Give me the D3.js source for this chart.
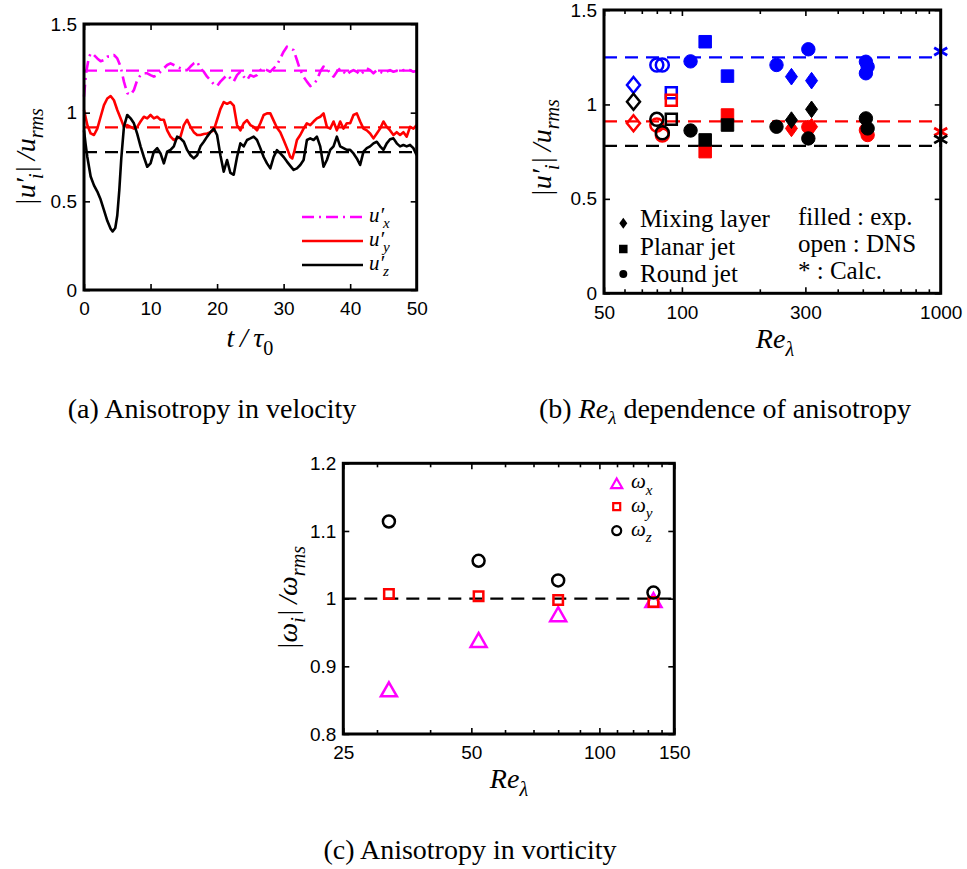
<!DOCTYPE html>
<html>
<head>
<meta charset="utf-8">
<script src="https://cdn.jsdelivr.net/npm/d3@7"></script>
<style>
  body { margin: 0; background: #fff; }
</style>
</head>
<body>
<svg id="fig" width="967" height="869"></svg>
<script>
// ---- (a) time histories of |u'_i|/u_rms, [t/tau0, value]
var uxHist = [[0,1.09],[0.3,1.22],[0.7,1.306],[1,1.335],[1.5,1.325],[2,1.306],[2.5,1.29],[3,1.297],[3.5,1.316],[4,1.316],[4.5,1.325],[5,1.306],[5.5,1.26],[6,1.175],[6.5,1.11],[7,1.10],[7.5,1.128],[8,1.184],[8.5,1.212],[9,1.222],[9.5,1.222],[10,1.212],[10.5,1.203],[11,1.212],[11.5,1.231],[12,1.25],[12.5,1.269],[13,1.278],[13.5,1.269],[14,1.26],[14.5,1.25],[15,1.24],[15.5,1.24],[16,1.26],[16.5,1.278],[17,1.288],[17.5,1.25],[18,1.231],[18.5,1.203],[19,1.184],[19.5,1.16],[20,1.15],[20.5,1.175],[21,1.194],[21.5,1.212],[22,1.194],[22.5,1.175],[23,1.212],[23.5,1.231],[24,1.203],[24.5,1.184],[25,1.212],[25.5,1.203],[26,1.212],[26.5,1.24],[27,1.25],[27.5,1.24],[28,1.231],[28.5,1.25],[29,1.269],[29.5,1.306],[30,1.344],[30.5,1.372],[31,1.363],[31.5,1.353],[32,1.297],[32.5,1.24],[33,1.203],[33.5,1.175],[34,1.15],[34.5,1.16],[35,1.184],[35.5,1.231],[36,1.26],[36.5,1.25],[37,1.222],[37.5,1.203],[38,1.231],[38.5,1.25],[39,1.231],[39.5,1.212],[40,1.231],[40.5,1.24],[41,1.231],[41.5,1.212],[42,1.231],[42.5,1.25],[43,1.24],[43.5,1.222],[44,1.24],[44.5,1.231],[45,1.222],[45.5,1.231],[46,1.24],[46.5,1.231],[47,1.237],[47.5,1.231],[48,1.24],[48.5,1.237],[49,1.24],[49.5,1.231],[50,1.237]];
var uyHist = [[0,1.015],[0.5,0.93],[1,0.883],[1.5,0.874],[2,0.91],[2.5,0.977],[3,1.043],[3.5,1.08],[4,1.094],[4.5,1.07],[5,1.015],[5.5,0.968],[6,0.92],[6.5,0.93],[7,0.92],[7.5,0.91],[8,0.92],[8.5,0.95],[9,0.977],[9.5,0.968],[10,0.987],[10.5,0.968],[11,0.977],[11.5,0.96],[12,0.96],[12.5,0.90],[13,0.865],[13.5,0.846],[14,0.855],[14.5,0.865],[15,0.93],[15.5,0.96],[16,0.92],[16.5,0.89],[17,0.874],[17.5,0.874],[18,0.88],[18.5,0.883],[19,0.89],[19.5,0.90],[20,0.96],[20.5,1.02],[21,1.06],[21.5,1.05],[22,1.06],[22.5,1.04],[23,0.93],[23.5,0.90],[24,0.94],[24.5,0.958],[25,0.93],[25.5,0.92],[26,0.90],[26.5,0.94],[27,0.987],[27.5,0.996],[28,0.996],[28.5,0.955],[29,0.915],[29.5,0.89],[30,0.846],[30.5,0.80],[31,0.75],[31.3,0.742],[31.6,0.78],[32,0.846],[32.5,0.874],[33,0.91],[33.5,0.94],[34,0.93],[34.5,0.95],[35,0.968],[35.5,0.977],[36,0.996],[36.5,0.92],[37,0.91],[37.5,0.95],[38,0.90],[38.5,0.95],[39,0.91],[39.5,0.94],[40,0.94],[40.5,0.987],[41,0.996],[41.5,0.95],[42,0.91],[42.5,0.90],[43,0.883],[43.5,0.855],[44,0.883],[44.5,0.91],[45,0.95],[45.5,0.92],[46,0.90],[46.5,0.874],[47,0.89],[47.5,0.874],[48,0.89],[48.5,0.865],[49,0.92],[49.5,0.91],[50,0.93]];
var uzHist = [[0,0.90],[0.25,0.82],[0.5,0.75],[1,0.64],[1.5,0.59],[2,0.555],[2.5,0.51],[3,0.45],[3.5,0.39],[4,0.345],[4.3,0.33],[4.7,0.35],[5,0.42],[5.3,0.56],[5.6,0.74],[6,0.92],[6.5,0.987],[7,0.968],[7.5,0.94],[8,0.88],[8.5,0.81],[9,0.75],[9.5,0.695],[10,0.714],[10.5,0.78],[11,0.80],[11.5,0.77],[12,0.714],[12.5,0.78],[13,0.79],[13.5,0.81],[14,0.865],[14.5,0.855],[15,0.836],[15.5,0.79],[16,0.76],[16.5,0.742],[17,0.76],[17.5,0.81],[18,0.836],[18.5,0.865],[19,0.89],[19.5,0.91],[20,0.874],[20.5,0.76],[21,0.667],[21.5,0.733],[22,0.66],[22.5,0.65],[23,0.75],[23.5,0.827],[24,0.81],[24.5,0.846],[25,0.855],[25.5,0.865],[26,0.846],[26.5,0.80],[27,0.75],[27.5,0.714],[28,0.686],[28.5,0.75],[29,0.789],[29.5,0.77],[30,0.75],[30.5,0.724],[31,0.70],[31.5,0.677],[32,0.686],[32.5,0.705],[33,0.733],[33.5,0.846],[34,0.855],[34.5,0.846],[35,0.865],[35.5,0.81],[36,0.695],[36.5,0.733],[37,0.79],[37.5,0.81],[38,0.865],[38.5,0.81],[39,0.80],[39.5,0.79],[40,0.79],[40.5,0.77],[41,0.742],[41.5,0.705],[42,0.78],[42.5,0.80],[43,0.81],[43.5,0.827],[44,0.836],[44.5,0.81],[45,0.79],[45.5,0.827],[46,0.85],[46.5,0.855],[47,0.827],[47.5,0.81],[48,0.818],[48.5,0.81],[49,0.818],[49.5,0.80],[50,0.76]];
var refLevelsA = [1.237, 0.917, 0.778];   // dashed mean levels for x, y, z
var xTicksA = [0, 10, 20, 30, 40, 50];
var yTicksA = [0, 0.5, 1, 1.5];

// ---- (b) rows: [Re_lambda, u'_x, u'_y, u'_z]
var mixingExp = [[265, 1.147, 0.873, 0.917], [317, 1.126, 0.882, 0.974]];
var mixingDns = [[65, 1.103, 0.90, 1.014]];
var planarExp = [[123, 1.332, 0.75, 0.812], [150, 1.15, 0.944, 0.891]];
var planarDns = [[91, 1.062, 1.022, 0.921]];
var roundExp = [[108, 1.228, null, 0.862], [232, 1.209, null, 0.882], [308, 1.292, 0.88, 0.82],
                [514, 1.226, 0.864, 0.926], [522, 1.20, 0.838, 0.873], [514, 1.165, null, null]];
var roundDns = [[80, 1.209, 0.891, 0.921], [84, 1.209, 0.838, 0.85]];
var calcRe = 1000;
var calcLevels = [1.28, 0.855, 0.815];
var refLevelsB = [1.249, 0.91, 0.781];
var xMajorB = [50, 100, 300, 1000];
var xMinorB = [60, 70, 80, 90, 200, 400, 500, 600, 700, 800, 900];
var yTicksB = [0, 0.5, 1, 1.5];

// ---- (c) vorticity
var reVort = [32, 52, 80, 134];
var omegaX = [0.866, 0.939, 0.977, 0.998];
var omegaY = [1.007, 1.0035, 0.998, 0.995];
var omegaZ = [1.114, 1.056, 1.027, 1.009];
var refLevelC = 1;
var xMajorC = [25, 50, 100, 150];
var xMinorC = [30, 40, 60, 70, 80, 90, 110, 120, 130, 140];
var yTicksC = [0.8, 0.9, 1, 1.1, 1.2];

var SANS = "'Liberation Sans', Arial, sans-serif";
var SERIF = "'Liberation Serif', 'Times New Roman', serif";
var compColors = ["#0000ff", "#ff0000", "#000000"];

var svg = d3.select("#fig");

// text with sub/superscripts built from tspans
function mathText(parent, x, y, fs, parts) {
  var t = parent.append("text").attr("x", x).attr("y", y)
    .attr("font-family", SERIF).attr("font-size", fs).attr("font-style", "italic").attr("fill", "#000");
  var shift = 0;
  parts.forEach(function(p) {
    var level = p.sub ? 0.3 * fs : p.sup ? -0.38 * fs : 0;
    var ts = t.append("tspan").text(p.s).attr("dy", level - shift);
    if (p.sub || p.sup) ts.attr("font-size", fs * (p.scale || 0.72));
    if (p.dx) ts.attr("dx", p.dx);
    if (p.rm) ts.attr("font-style", "normal");
    shift = level;
  });
  return t;
}

// ticks on all four sides + box, matlab style
function drawAxes(x, y, o) {
  var g = svg.append("g");
  var xr = x.range(), yr = y.range();
  function put(axis, tr) { g.append("g").attr("transform", tr).call(axis); }
  put(d3.axisBottom(x).tickValues(o.xMajor).tickSize(-6).tickSizeOuter(0).tickPadding(12).tickFormat(o.xFmt), "translate(0," + yr[0] + ")");
  put(d3.axisTop(x).tickValues(o.xMajor).tickSize(-6).tickSizeOuter(0).tickFormat(""), "translate(0," + yr[1] + ")");
  if (o.xMinor) {
    put(d3.axisBottom(x).tickValues(o.xMinor).tickSize(-4).tickSizeOuter(0).tickFormat(""), "translate(0," + yr[0] + ")");
    put(d3.axisTop(x).tickValues(o.xMinor).tickSize(-4).tickSizeOuter(0).tickFormat(""), "translate(0," + yr[1] + ")");
  }
  put(d3.axisLeft(y).tickValues(o.yTicks).tickSize(-6).tickSizeOuter(0).tickPadding(7).tickFormat(o.yFmt), "translate(" + xr[0] + ",0)");
  put(d3.axisRight(y).tickValues(o.yTicks).tickSize(-6).tickSizeOuter(0).tickFormat(""), "translate(" + xr[1] + ",0)");
  g.selectAll(".domain").remove();
  g.selectAll(".tick line").attr("stroke", "#000").attr("stroke-width", 1.6);
  g.selectAll(".tick text").attr("font-family", SANS).attr("font-size", 19).attr("fill", "#000");
  g.append("rect").attr("x", xr[0]).attr("y", yr[1])
    .attr("width", xr[1] - xr[0]).attr("height", yr[0] - yr[1])
    .attr("fill", "none").attr("stroke", "#000").attr("stroke-width", 3);
}

function shapePath(kind, a, b) {
  var p = d3.path();
  if (kind === "diamond") { p.moveTo(0, -b); p.lineTo(a, 0); p.lineTo(0, b); p.lineTo(-a, 0); p.closePath(); }
  else if (kind === "square") { p.rect(-a / 2, -a / 2, a, a); }
  else if (kind === "circle") { p.moveTo(a, 0); p.arc(0, 0, a, 0, 2 * Math.PI); }
  else if (kind === "triangle") { p.moveTo(0, -b / 2); p.lineTo(a / 2, b / 2); p.lineTo(-a / 2, b / 2); p.closePath(); }
  return p.toString();
}

var numFmt = function(d) { return String(d); };

// |u'_i| / u_rms label parts
var uLabel = [{ s: "|u\u2032" }, { s: "i", sub: true, dx: -1 }, { s: "|\u2009/u" }, { s: "rms", sub: true }];

// ================= (a) =================
var xA = d3.scaleLinear().domain([0, 50]).range([84, 416.7]);
var yA = d3.scaleLinear().domain([0, 1.5]).range([290, 24]);
var lineA = d3.line().x(function(d) { return xA(d[0]); }).y(function(d) { return yA(d[1]); });
var gA = svg.append("g");
var histStyles = [
  { data: uxHist, color: "#ff00ff", dash: "12,5,2,5" },
  { data: uyHist, color: "#ff0000", dash: null },
  { data: uzHist, color: "#000000", dash: null }
];
refLevelsA.forEach(function(v, i) {
  gA.append("line").attr("x1", xA(0)).attr("x2", xA(50)).attr("y1", yA(v)).attr("y2", yA(v))
    .attr("stroke", histStyles[i].color).attr("stroke-width", 2.2).attr("stroke-dasharray", "13,8");
});
histStyles.forEach(function(s) {
  gA.append("path").datum(s.data).attr("d", lineA).attr("fill", "none")
    .attr("stroke", s.color).attr("stroke-width", 2.6).attr("stroke-linejoin", "round")
    .attr("stroke-dasharray", s.dash);
});
drawAxes(xA, yA, { xMajor: xTicksA, yTicks: yTicksA, xFmt: numFmt, yFmt: numFmt });
// legend (a)
["x", "y", "z"].forEach(function(c, i) {
  var ly = 217 + i * 24;
  gA.append("line").attr("x1", 302).attr("x2", 363).attr("y1", ly).attr("y2", ly)
    .attr("stroke", histStyles[i].color).attr("stroke-width", 2.5).attr("stroke-dasharray", histStyles[i].dash);
  mathText(gA, 369, ly + 5, 21, [{ s: "u\u2032" }, { s: c, sub: true, dx: -1 }]);
});
mathText(gA, 0, 0, 28, uLabel)
  .attr("text-anchor", "middle").attr("transform", "translate(35,157) rotate(-90)");
mathText(gA, 250, 347, 28, [{ s: "t\u2009/\u2009\u03c4" }, { s: "0", sub: true, rm: true }]).attr("text-anchor", "middle");

// ================= (b) =================
var xB = d3.scaleLog().domain([50, 1000]).range([604, 940.7]);
var yB = d3.scaleLinear().domain([0, 1.5]).range([293.3, 10]);
var gB = svg.append("g");
refLevelsB.forEach(function(v, i) {
  gB.append("line").attr("x1", xB(50)).attr("x2", xB(1000)).attr("y1", yB(v)).attr("y2", yB(v))
    .attr("stroke", compColors[i]).attr("stroke-width", 2.2).attr("stroke-dasharray", "13,8");
});
var groupsB = [
  { rows: mixingDns, kind: "diamond", filled: false, a: 6.5, b: 8 },
  { rows: mixingExp, kind: "diamond", filled: true, a: 6, b: 8.3 },
  { rows: planarDns, kind: "square", filled: false, a: 11 },
  { rows: planarExp, kind: "square", filled: true, a: 12.5 },
  { rows: roundDns, kind: "circle", filled: false, a: 6.5 },
  { rows: roundExp, kind: "circle", filled: true, a: 6.7 }
];
[0, 1, 2].forEach(function(ci) {
  groupsB.forEach(function(gr) {
    gB.selectAll(null).data(gr.rows.filter(function(r) { return r[ci + 1] != null; }))
      .enter().append("path")
      .attr("d", shapePath(gr.kind, gr.a, gr.b))
      .attr("transform", function(r) { return "translate(" + xB(r[0]) + "," + yB(r[ci + 1]) + ")"; })
      .attr("fill", gr.filled ? compColors[ci] : "none")
      .attr("stroke", compColors[ci]).attr("stroke-width", gr.filled ? 1 : 2.5);
  });
});
drawAxes(xB, yB, { xMajor: xMajorB, xMinor: xMinorB, yTicks: yTicksB, xFmt: numFmt, yFmt: numFmt });
calcLevels.forEach(function(v, i) {
  gB.append("path").attr("d", d3.symbol(d3.symbolAsterisk, 160)())
    .attr("transform", "translate(" + xB(calcRe) + "," + yB(v) + ")")
    .attr("fill", "none").attr("stroke", compColors[i]).attr("stroke-width", 2.8);
});
// legend (b)
var legB = [
  { label: "Mixing layer", kind: "diamond", a: 4, b: 5.5, y: 223.3 },
  { label: "Planar jet", kind: "square", a: 8.5, y: 249 },
  { label: "Round jet", kind: "circle", a: 4, y: 274 }
];
legB.forEach(function(l, i) {
  gB.append("path").attr("d", shapePath(l.kind, l.a, l.b)).attr("transform", "translate(623.3," + l.y + ")").attr("fill", "#000");
  gB.append("text").attr("x", 640).attr("y", [227.3, 255, 281.7][i]).text(l.label)
    .attr("font-family", SERIF).attr("font-size", 25).attr("fill", "#000");
});
["filled : exp.", "open : DNS", "* : Calc."].forEach(function(s, i) {
  gB.append("text").attr("x", 798).attr("y", [225, 251.7, 278.5][i]).text(s)
    .attr("font-family", SERIF).attr("font-size", 25).attr("fill", "#000");
});
mathText(gB, 0, 0, 28, uLabel)
  .attr("text-anchor", "middle").attr("transform", "translate(551,148) rotate(-90)");
mathText(gB, 775, 348, 28, [{ s: "Re" }, { s: "\u03bb", sub: true }]).attr("text-anchor", "middle");

// ================= (c) =================
var xC = d3.scaleLog().domain([25, 150]).range([343.3, 674.3]);
var yC = d3.scaleLinear().domain([0.8, 1.2]).range([734, 463.3]);
var gC = svg.append("g");
gC.append("line").attr("x1", xC(25)).attr("x2", xC(150)).attr("y1", yC(refLevelC)).attr("y2", yC(refLevelC))
  .attr("stroke", "#000").attr("stroke-width", 2.2).attr("stroke-dasharray", "13,8");
var seriesC = [
  { vals: omegaX, kind: "triangle", a: 16, b: 14, color: "#ff00ff", name: "x" },
  { vals: omegaY, kind: "square", a: 9.5, color: "#ff0000", name: "y" },
  { vals: omegaZ, kind: "circle", a: 6, color: "#000000", name: "z" }
];
seriesC.forEach(function(s) {
  gC.selectAll(null).data(reVort).enter().append("path")
    .attr("d", shapePath(s.kind, s.a, s.b))
    .attr("transform", function(re, i) { return "translate(" + xC(re) + "," + yC(s.vals[i]) + ")"; })
    .attr("fill", "none").attr("stroke", s.color).attr("stroke-width", 2.5);
});
drawAxes(xC, yC, { xMajor: xMajorC, xMinor: xMinorC, yTicks: yTicksC, xFmt: numFmt, yFmt: numFmt });
var legSizes = [{ a: 11, b: 9.5 }, { a: 7 }, { a: 4.5 }];
seriesC.forEach(function(s, i) {
  var ly = [483.3, 506.7, 530.7][i];
  gC.append("path").attr("d", shapePath(s.kind, legSizes[i].a, legSizes[i].b))
    .attr("transform", "translate(616.7," + ly + ")")
    .attr("fill", "none").attr("stroke", s.color).attr("stroke-width", 2.2);
  mathText(gC, 631, ly + 5, 21, [{ s: "\u03c9" }, { s: s.name, sub: true }]);
});
mathText(gC, 0, 0, 28, [{ s: "|\u03c9" }, { s: "i", sub: true }, { s: "|\u2009/\u03c9" }, { s: "rms", sub: true }])
  .attr("text-anchor", "middle").attr("transform", "translate(297,598) rotate(-90)");
mathText(gC, 509, 788, 28, [{ s: "Re" }, { s: "\u03bb", sub: true }]).attr("text-anchor", "middle");

// ================= captions =================
svg.append("text").attr("x", 212).attr("y", 418).attr("text-anchor", "middle")
  .attr("font-family", SERIF).attr("font-size", 28).attr("fill", "#000")
  .text("(a) Anisotropy in velocity");
var capB = svg.append("text").attr("x", 725).attr("y", 418).attr("text-anchor", "middle")
  .attr("font-family", SERIF).attr("font-size", 28).attr("fill", "#000");
capB.append("tspan").text("(b) ");
capB.append("tspan").text("Re").attr("font-style", "italic");
capB.append("tspan").text("\u03bb").attr("font-style", "italic").attr("font-size", 19).attr("dy", 6);
capB.append("tspan").text(" dependence of anisotropy").attr("dy", -6);
svg.append("text").attr("x", 470).attr("y", 859).attr("text-anchor", "middle")
  .attr("font-family", SERIF).attr("font-size", 28).attr("fill", "#000")
  .text("(c) Anisotropy in vorticity");
</script>
</body>
</html>
